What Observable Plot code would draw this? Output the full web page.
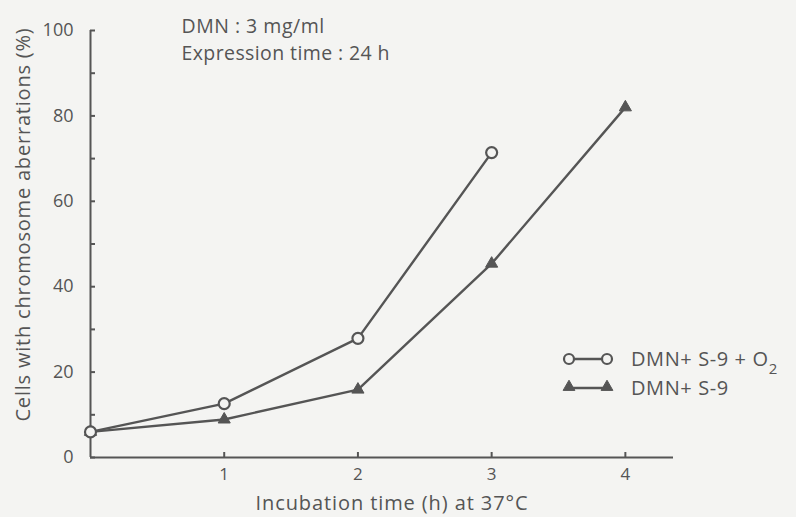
<!DOCTYPE html>
<html>
<head>
<meta charset="utf-8">
<script src="https://cdn.jsdelivr.net/npm/d3@7"></script>
<script src="https://cdn.jsdelivr.net/npm/@observablehq/plot@0.6"></script>
<style>
  html, body { margin: 0; padding: 0; background: #f4f4f2; }
  #chart svg { display: block; }
</style>
</head>
<body>
<div id="chart"></div>
<script>
// Incubation time (h) at 37°C
const hours = [0, 1, 2, 3, 4];
// % cells with chromosome aberrations, DMN + S-9 + O2 (open circles)
const withO2 = [6, 12.6, 27.9, 71.4];
// % cells with chromosome aberrations, DMN + S-9 (filled triangles)
const withoutO2 = [6, 8.9, 15.9, 45.4, 82];

const yLabelTicks = [0, 20, 40, 60, 80, 100];
const yTickMarks = [0, 10, 20, 30, 40, 50, 60, 70, 80, 90, 100];
const xTicks = [1, 2, 3, 4];

const yTitle = "Cells with chromosome aberrations (%)";
const xTitle = "Incubation time (h) at 37°C";
const dose = "DMN : 3 mg/ml";
const expression = "Expression time : 24 h";

const seriesO2 = withO2.map((v, i) => ({t: hours[i], v}));
const seriesS9 = withoutO2.map((v, i) => ({t: hours[i], v}));

const ink = "#555";
const paper = "#f4f4f2";
const font = "'Open Sans', Lato, sans-serif";

const chart = Plot.plot({
  width: 796,
  height: 517,
  marginLeft: 90,
  marginRight: 123,
  marginTop: 30,
  marginBottom: 60,
  style: {background: paper, color: ink, fontFamily: font, fontSize: "16px"},
  x: {domain: [0, 4.36]},
  y: {domain: [0, 100]},
  marks: [
    // axis lines
    Plot.ruleX([0], {stroke: ink, strokeWidth: 2}),
    Plot.ruleY([0], {stroke: ink, strokeWidth: 2}),
    // inward tick marks
    Plot.ruleY(yTickMarks, {x1: 0, x2: 0, insetRight: -5, stroke: ink, strokeWidth: 2}),
    Plot.ruleX(xTicks, {y1: 0, y2: 0, insetTop: -5, stroke: ink, strokeWidth: 2}),
    // tick labels
    Plot.axisY({ticks: yLabelTicks, tickSize: 0, tickPadding: 17, label: null, fontSize: 18, tickFormat: d => `${d}`}),
    Plot.axisX({ticks: xTicks, tickSize: 0, tickPadding: 10, label: null, fontSize: 17, tickFormat: d => `${d}`}),
    // axis titles
    Plot.text([yTitle], {
      frameAnchor: "left", dx: -67, dy: -19.5, rotate: -90, textAnchor: "middle", lineAnchor: "middle",
      fontSize: 20, fill: ink
    }),
    Plot.text([xTitle], {
      frameAnchor: "bottom", dx: 10, dy: 46.5, textAnchor: "middle", lineAnchor: "middle",
      fontSize: 20, fill: ink
    }),
    // experimental conditions
    Plot.text([dose], {
      frameAnchor: "top-left", dx: 91, dy: -4, textAnchor: "start", lineAnchor: "middle",
      fontSize: 19.5, fill: ink
    }),
    Plot.text([expression], {
      frameAnchor: "top-left", dx: 91, dy: 23, textAnchor: "start", lineAnchor: "middle",
      fontSize: 19.5, fill: ink
    }),
    // DMN + S-9
    Plot.line(seriesS9, {x: "t", y: "v", stroke: ink, strokeWidth: 2.4}),
    Plot.dot(seriesS9, {x: "t", y: "v", symbol: "triangle", r: 4.5, fill: ink, stroke: ink, strokeWidth: 1}),
    // DMN + S-9 + O2
    Plot.line(seriesO2, {x: "t", y: "v", stroke: ink, strokeWidth: 2.4}),
    Plot.dot(seriesO2, {x: "t", y: "v", symbol: "circle", r: 5.5, fill: paper, stroke: ink, strokeWidth: 2.2})
  ]
});

document.getElementById("chart").appendChild(chart);

const svg = d3.select(chart);

// wider tracking for the titles and notes
const tracking = new Map([[yTitle, "0.8px"], [xTitle, "0.9px"], [dose, "0.5px"], [expression, "0.4px"]]);
svg.selectAll("text").each(function () {
  const ls = tracking.get(this.textContent);
  if (ls) d3.select(this).style("letter-spacing", ls);
});

// Legend, drawn inside the plot area on the right
const lg = svg.append("g").attr("fill", ink).attr("stroke", ink).attr("text-anchor", "start");
const row1 = 359, row2 = 388, s0 = 569, s1 = 607, tx = 631;

lg.append("line").attr("x1", s0).attr("x2", s1).attr("y1", row1).attr("y2", row1).attr("stroke-width", 2.4);
[s0, s1].forEach(cx => lg.append("circle").attr("cx", cx).attr("cy", row1).attr("r", 5)
  .attr("fill", paper).attr("stroke-width", 2.2));

lg.append("line").attr("x1", s0).attr("x2", s1).attr("y1", row2).attr("y2", row2).attr("stroke-width", 2.4);
const tri = d3.symbol(d3.symbolTriangle, 60);
[s0, s1].forEach(cx => lg.append("path").attr("d", tri()).attr("transform", `translate(${cx},${row2 - 1})`)
  .attr("stroke-width", 1));

const legendFont = `20px ${font}`;
const t1 = lg.append("text").attr("x", tx).attr("y", row1).attr("dy", "0.35em")
  .attr("stroke", "none").style("font", legendFont).style("letter-spacing", "0.6px");
t1.append("tspan").text("DMN+ S-9 + O");
t1.append("tspan").attr("dy", "0.5em").style("font-size", "15px").text("2");

lg.append("text").attr("x", tx).attr("y", row2).attr("dy", "0.35em")
  .attr("stroke", "none").style("font", legendFont).style("letter-spacing", "0.6px").text("DMN+ S-9");
</script>
</body>
</html>
